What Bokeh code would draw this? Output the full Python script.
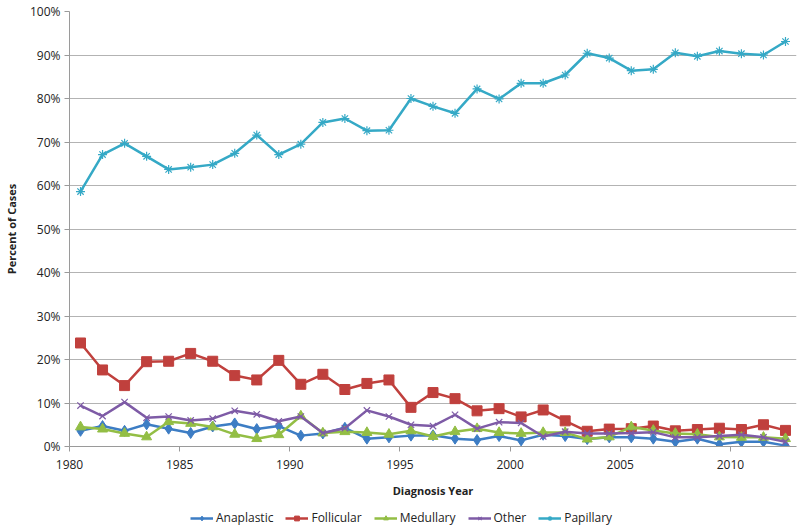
from bokeh.plotting import figure
from bokeh.layouts import column
from bokeh.models import ColumnDataSource, Range1d, FixedTicker, PrintfTickFormatter, Legend, LegendItem
from bokeh.embed import file_html
from bokeh.resources import INLINE

years = list(range(1980, 2013))
anaplastic = [3.6, 4.7, 3.6, 5.1, 4.1, 3.1, 4.6, 5.3, 4.0, 4.7, 2.5, 3.0, 4.3, 1.8, 2.1, 2.5, 2.6, 1.8, 1.5, 2.4,
              1.4, 2.7, 2.4, 1.7, 2.1, 2.1, 1.8, 1.1, 1.8, 0.5, 1.1, 1.1, 0.2]
follicular = [23.8, 17.6, 14.0, 19.5, 19.6, 21.4, 19.6, 16.3, 15.3, 19.8, 14.3, 16.6, 13.1, 14.5, 15.3, 9.0, 12.4,
              11.0, 8.2, 8.7, 6.8, 8.4, 5.9, 3.5, 4.0, 4.1, 4.7, 3.6, 3.9, 4.2, 3.9, 5.0, 3.7]
medullary = [4.5, 4.0, 3.0, 2.2, 5.7, 5.3, 4.5, 2.8, 1.8, 2.7, 7.0, 3.1, 3.4, 3.2, 2.8, 3.6, 2.3, 3.4, 4.1, 3.2,
             3.0, 3.2, 3.2, 1.7, 2.2, 4.5, 3.7, 3.0, 2.8, 2.2, 2.1, 2.1, 1.8]
other = [9.4, 7.0, 10.2, 6.6, 6.9, 6.0, 6.4, 8.2, 7.4, 5.8, 6.9, 3.1, 4.2, 8.3, 6.9, 5.0, 4.7, 7.3, 4.1, 5.6,
         5.4, 2.3, 3.4, 3.0, 3.0, 3.1, 3.3, 2.1, 2.1, 2.4, 2.7, 2.1, 1.1]
papillary = [58.6, 67.1, 69.7, 66.7, 63.7, 64.2, 64.8, 67.4, 71.6, 67.1, 69.5, 74.5, 75.4, 72.6, 72.7, 80.0, 78.2,
             76.6, 82.2, 79.9, 83.5, 83.5, 85.4, 90.4, 89.3, 86.4, 86.7, 90.5, 89.7, 90.9, 90.3, 90.0, 93.1]
x_tick_years = [1980, 1985, 1990, 1995, 2000, 2005, 2010]
y_ticks = [0, 10, 20, 30, 40, 50, 60, 70, 80, 90, 100]

series = [
    ("Anaplastic", anaplastic, "#3D7DC4", "diamond", 11),
    ("Follicular", follicular, "#C0403D", "square", 10),
    ("Medullary", medullary, "#93BE45", "triangle", 10),
    ("Other", other, "#7E5BA6", "x", 9),
    ("Papillary", papillary, "#35A9C6", "asterisk", 9),
]

FONT = "Open Sans"

p = figure(width=800, height=504, output_backend="svg", toolbar_location=None,
           x_range=Range1d(1980, 2013), y_range=Range1d(0, 100),
           min_border_left=64, min_border_right=4, min_border_top=11, min_border_bottom=58)
p.outline_line_color = None
p.background_fill_color = "white"

# legend strip below the chart (its glyphs lie outside its ranges, so only the legend shows)
pl = figure(width=800, height=25, output_backend="svg", toolbar_location=None,
            x_range=Range1d(-10, -9), y_range=Range1d(-10, -9),
            min_border_left=0, min_border_right=0, min_border_top=0, min_border_bottom=0)
pl.outline_line_color = None
pl.axis.visible = False
pl.grid.visible = False

# category-centred positions (each year's point sits in the middle of its slot)
xs = [y + 0.5 for y in years]

items = []
for name, vals, color, marker, size in series:
    src = ColumnDataSource(dict(x=xs, y=vals))
    for fig in (p, pl):
        r1 = fig.line("x", "y", source=src, line_color=color, line_width=2.5)
        if marker in ("x", "asterisk"):
            r2 = fig.scatter("x", "y", source=src, marker=marker, size=size, line_color=color, line_width=1.2)
        else:
            r2 = fig.scatter("x", "y", source=src, marker=marker, size=size, fill_color=color, line_color=color)
    items.append(LegendItem(label=name, renderers=[r1, r2]))

p.xaxis.ticker = FixedTicker(ticks=x_tick_years)
p.yaxis.ticker = FixedTicker(ticks=y_ticks)
p.yaxis.formatter = PrintfTickFormatter(format="%d%%")

p.xgrid.grid_line_color = None
p.ygrid.grid_line_color = "#B3B3B3"
p.ygrid.grid_line_width = 1

for ax in (p.xaxis[0], p.yaxis[0]):
    ax.axis_line_color = "#9A9A9A"
    ax.major_tick_line_color = "#9A9A9A"
    ax.minor_tick_line_color = None
    ax.major_tick_in = 0
    ax.major_tick_out = 5
    ax.major_label_text_font = FONT
    ax.major_label_text_font_size = "12px"
    ax.major_label_text_color = "#222222"
    ax.axis_label_text_font = FONT
    ax.axis_label_text_font_size = "11px"
    ax.axis_label_text_font_style = "bold"
    ax.axis_label_text_color = "#222222"

p.xaxis.axis_label = "Diagnosis Year"
p.yaxis.axis_label = "Percent of Cases"
p.xaxis.major_label_standoff = 8
p.xaxis.axis_label_standoff = 11
p.yaxis.major_label_standoff = 4
p.yaxis.axis_label_standoff = 8

legend = Legend(items=items, orientation="horizontal", location=(121, 3),
                label_text_font=FONT, label_text_font_size="12px", label_text_color="#222222",
                glyph_width=23, glyph_height=12, spacing=12, padding=2, margin=0,
                border_line_color=None, background_fill_alpha=0, label_standoff=3)
pl.add_layout(legend, "center")

layout = column(p, pl, spacing=0)
open("out.html", "w").write(file_html(layout, INLINE))
